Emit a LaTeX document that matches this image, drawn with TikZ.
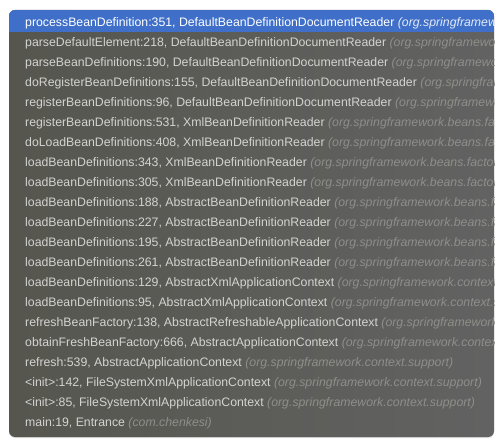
\documentclass[tikz,border=0pt]{standalone}
\usepackage{fontspec}
\setmainfont{Liberation Sans}
\usetikzlibrary{shadows}
\definecolor{panelbg}{HTML}{56564F}
\definecolor{panelbgr}{HTML}{626262}
\definecolor{selblue}{HTML}{3F6FC8}
\definecolor{framefg}{HTML}{D3D3D0}
\definecolor{pkgfg}{HTML}{8E8E8A}
\definecolor{selpkg}{HTML}{E4EAF6}
\begin{document}
\begin{tikzpicture}[x=1pt,y=-1pt]
\tikzset{
panel/.style={rounded corners=6pt, left color=panelbg, right color=panelbgr, drop shadow={opacity=0.25, shadow xshift=0pt, shadow yshift=-1pt}},
frame/.style={anchor=west, inner sep=0pt, text=framefg, font=\fontsize{12.3}{14}\selectfont},
selframe/.style={frame, text=white},
}
\useasboundingbox (0,0) rectangle (503,446);
\fill[white] (0,0) rectangle (503,446);
\path[panel] (9,10) rectangle (494,437);
\begin{scope}
\clip[rounded corners=6pt] (9,10) rectangle (494,437);
\fill[selblue] (9,10) rectangle (494,32);
% selected stack frame
\node[selframe] (frame1) at (25,23) {processBeanDefinition:351, DefaultBeanDefinitionDocumentReader {\itshape\color{selpkg}(org.springframework.beans.factory.xml)}};
% the other frames
\foreach \fn/\pk [count=\i from 2] in {
{parseDefaultElement:218, DefaultBeanDefinitionDocumentReader}/{org.springframework.beans.factory.xml},
{parseBeanDefinitions:190, DefaultBeanDefinitionDocumentReader}/{org.springframework.beans.factory.xml},
{doRegisterBeanDefinitions:155, DefaultBeanDefinitionDocumentReader}/{org.springframework.beans.factory.xml},
{registerBeanDefinitions:96, DefaultBeanDefinitionDocumentReader}/{org.springframework.beans.factory.xml},
{registerBeanDefinitions:531, XmlBeanDefinitionReader}/{org.springframework.beans.factory.xml},
{doLoadBeanDefinitions:408, XmlBeanDefinitionReader}/{org.springframework.beans.factory.xml},
{loadBeanDefinitions:343, XmlBeanDefinitionReader}/{org.springframework.beans.factory.xml},
{loadBeanDefinitions:305, XmlBeanDefinitionReader}/{org.springframework.beans.factory.xml},
{loadBeanDefinitions:188, AbstractBeanDefinitionReader}/{org.springframework.beans.factory.support},
{loadBeanDefinitions:227, AbstractBeanDefinitionReader}/{org.springframework.beans.factory.support},
{loadBeanDefinitions:195, AbstractBeanDefinitionReader}/{org.springframework.beans.factory.support},
{loadBeanDefinitions:261, AbstractBeanDefinitionReader}/{org.springframework.beans.factory.support},
{loadBeanDefinitions:129, AbstractXmlApplicationContext}/{org.springframework.context.support},
{loadBeanDefinitions:95, AbstractXmlApplicationContext}/{org.springframework.context.support},
{refreshBeanFactory:138, AbstractRefreshableApplicationContext}/{org.springframework.context.support},
{obtainFreshBeanFactory:666, AbstractApplicationContext}/{org.springframework.context.support},
{refresh:539, AbstractApplicationContext}/{org.springframework.context.support},
{<init>:142, FileSystemXmlApplicationContext}/{org.springframework.context.support},
{<init>:85, FileSystemXmlApplicationContext}/{org.springframework.context.support},
{main:19, Entrance}/{com.chenkesi}}
  \node[frame] (frame\i) at (25,3+20*\i) {\fn\ {\itshape\color{pkgfg}(\pk)}};
\end{scope}
\end{tikzpicture}
\end{document}
